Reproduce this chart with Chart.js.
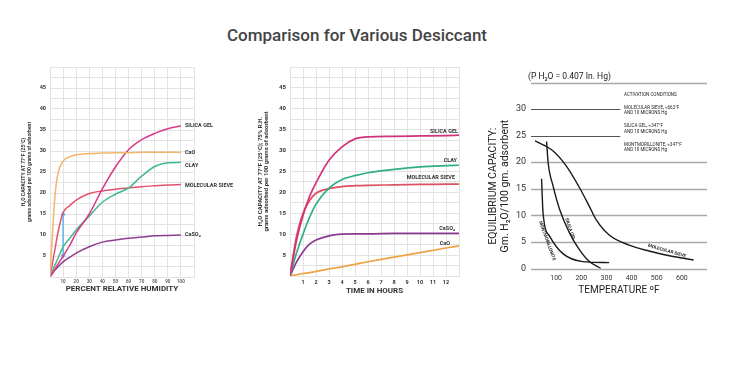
<!DOCTYPE html>
<html>
<head>
<meta charset="utf-8">
<script src="https://cdn.jsdelivr.net/npm/chart.js@4.4.0/dist/chart.umd.min.js"></script>
<style>
body { margin:0; background:#fff; width:744px; height:367px; position:relative; overflow:hidden; font-family: Roboto, sans-serif; }
#title { position:absolute; left:0; width:714px; top:25px; text-align:center; font-size:17px; font-weight:500; color:#444; }
canvas { position:absolute; }
</style>
</head>
<body>
<div id="title">Comparison for Various Desiccant</div>
<canvas id="humidity" width="250" height="260" style="left:0;top:50px"></canvas>
<canvas id="hours" width="240" height="260" style="left:250px;top:50px"></canvas>
<canvas id="temperature" width="260" height="260" style="left:484px;top:50px"></canvas>
<script>
Chart.defaults.font.family = 'Roboto, sans-serif';
Chart.defaults.color = '#333';

// chart 1 - capacity vs percent relative humidity
const rhLevels = [0, 2, 4, 6, 10, 15, 20, 30, 40, 50, 60, 70, 80, 90, 100];
const caoRh = [0, 11, 20, 24.5, 27.6, 28.6, 29.1, 29.4, 29.5, 29.6, 29.6, 29.7, 29.7, 29.7, 29.7];
const silicaGelRh = [0, 1, 2, 3, 5, 7.5, 10.5, 15, 21, 26.2, 30.3, 32.7, 34.2, 35.3, 36];
const clayRh = [0, 1.5, 3, 4.4, 7.2, 9.2, 11.2, 14.5, 17.8, 19.7, 21.2, 24, 26.3, 27.2, 27.3];
const molSieveRh = [0, 3.5, 7, 10.5, 15.3, 17, 18.3, 19.9, 20.5, 20.9, 21.2, 21.5, 21.7, 21.9, 22];
const caso4Rh = [0, 0.9, 1.7, 2.4, 3.6, 4.7, 5.7, 7.2, 8.3, 8.8, 9.2, 9.5, 9.8, 9.9, 10];
const arrowRh = [10, 10];
const arrowCap = [5, 15];

// chart 2 - capacity vs time at 75% R.H.
const hourLevels = [0, 0.5, 1, 1.5, 2, 3, 4, 5, 6, 8, 10, 12, 13];
const silicaGelHr = [0, 8.5, 14.5, 19, 22.3, 27.7, 30.9, 32.8, 33.3, 33.4, 33.5, 33.6, 33.7];
const clayHr = [0, 5.5, 10, 14, 17.2, 21, 23.1, 24, 24.7, 25.5, 26.1, 26.4, 26.5];
const molSieveHr = [0, 9.5, 15, 18, 19.8, 20.9, 21.4, 21.6, 21.7, 21.8, 21.9, 22, 22];
const caso4Hr = [0, 3.3, 5.8, 7.6, 8.6, 9.6, 10, 10.1, 10.1, 10.2, 10.2, 10.2, 10.2];
const caoHr = [0, 0.3, 0.6, 0.8, 1.1, 1.7, 2.2, 2.8, 3.4, 4.5, 5.6, 6.7, 7.2];

// chart 3 - equilibrium capacity vs temperature
const molSieveTemp = [16, 88, 140, 193, 232, 259, 311, 390, 469, 560, 647];
const molSieveCap = [24.0, 22.1, 19.3, 15.2, 11.7, 9.2, 6.3, 4.4, 3.3, 2.3, 1.6];
const silicaGelTemp = [62, 68, 88, 114, 154, 193, 232, 278];
const silicaGelCap = [23.9, 20, 15.5, 11.1, 6.6, 3.5, 1.3, 0];
const montTemp = [42, 48, 75, 127, 206, 311];
const montCap = [16.9, 10.4, 6.0, 2.8, 1.3, 1.1];
const gridCaps = [0, 5, 10, 15, 20, 25, 30, 35];
const shortGridCaps = [25, 30];
const activationHeader = 'ACTIVATION CONDITIONS';
const activationNotes = [
    ['MOLECULAR SIEVE, \u2248662\u00b0F', 'AND 10 MICRONS Hg'],
    ['SILICA GEL, \u2248347\u00b0F', 'AND 10 MICRONS Hg'],
    ['MONTMORILLONITE, \u2248347\u00b0F', 'AND 10 MICRONS Hg']
];

function points(xs, ys) {
    return xs.map((x, i) => ({x: x, y: ys[i]}));
}

// text labels next to the curve ends
const endLabels = {
    id: 'endLabels',
    afterDatasetsDraw(chart, args, opts) {
        const ctx = chart.ctx;
        ctx.save();
        ctx.font = opts.font;
        ctx.fillStyle = '#333';
        ctx.textBaseline = 'middle';
        opts.items.forEach(item => {
            const ds = chart.data.datasets[item.dataset];
            const last = ds.data[ds.data.length - 1];
            let x = item.align === 'right' ? chart.chartArea.right + item.dx : chart.scales.x.getPixelForValue(last.x) + item.dx;
            let y = chart.scales.y.getPixelForValue(last.y) + item.dy;
            ctx.textAlign = item.align || 'left';
            ctx.fillText(item.text, x, y);
        });
        ctx.restore();
    }
};

const gridColor = '#e3e3e3';

new Chart(document.getElementById('humidity'), {
    type: 'line',
    data: {
        datasets: [
            {label: 'CaO', data: points(rhLevels, caoRh), borderColor: '#f2b56d'},
            {label: 'SILICA GEL', data: points(rhLevels, silicaGelRh), borderColor: '#d8398a'},
            {label: 'CLAY', data: points(rhLevels, clayRh), borderColor: '#43b98f'},
            {label: 'MOLECULAR SIEVE', data: points(rhLevels, molSieveRh), borderColor: '#e2536b'},
            {label: 'CaSO4', data: points(rhLevels, caso4Rh), borderColor: '#8d3e91'},
            {
                label: 'difference', data: points(arrowRh, arrowCap), borderColor: '#5bb6e8', backgroundColor: '#5bb6e8',
                cubicInterpolationMode: 'default', tension: 0, pointStyle: 'triangle', pointRadius: 2.2,
                rotation: ctx => ctx.dataIndex === 0 ? 180 : 0
            }
        ]
    },
    options: {
        responsive: false,
        animation: false,
        layout: {padding: {top: 17, right: 56, left: 0, bottom: 0}},
        elements: {
            line: {borderWidth: 1.5, cubicInterpolationMode: 'monotone', fill: false},
            point: {radius: 0}
        },
        plugins: {
            legend: {display: false},
            tooltip: {enabled: false},
            endLabels: {
                font: 'bold 5.5px Roboto, sans-serif',
                items: [
                    {dataset: 1, text: 'SILICA GEL', dx: 4, dy: 0},
                    {dataset: 0, text: 'CaO', dx: 4, dy: 0},
                    {dataset: 2, text: 'CLAY', dx: 4, dy: 3},
                    {dataset: 3, text: 'MOLECULAR SIEVE', dx: 4, dy: 1},
                    {dataset: 4, text: 'CaSO\u2084', dx: 4, dy: 0}
                ]
            }
        },
        scales: {
            x: {
                type: 'linear', min: 0, max: 110,
                afterFit: s => { s.height = 33; },
                ticks: {stepSize: 10, autoSkip: false, maxRotation: 0, padding: 2, color: '#666',
                    font: {size: 4.5, weight: 'bold'},
                    callback: v => (v > 0 && v <= 100) ? v : ''},
                grid: {color: gridColor, drawTicks: false},
                border: {color: gridColor},
                title: {display: true, text: 'PERCENT RELATIVE HUMIDITY', color: '#333',
                    font: {size: 8, weight: 'bold'}, padding: {top: 0, bottom: 16}}
            },
            y: {
                min: 0, max: 50,
                afterFit: s => { s.width = 50; },
                ticks: {stepSize: 2.5, autoSkip: false, padding: 4, color: '#333',
                    font: {size: 5.5, weight: 'bold'},
                    callback: v => (v % 5 === 0 && v > 0 && v < 50) ? v : ''},
                grid: {color: gridColor, drawTicks: false},
                border: {color: gridColor},
                title: {display: true, text: ['H\u2082O CAPACITY AT 77\u00b0F (25\u00b0C)', 'grams adsorbed per 100 grams of adsorbent'],
                    color: '#333', font: {size: 5, weight: 'bold', lineHeight: 1.2}, padding: {top: 21, bottom: 0}}
            }
        }
    },
    plugins: [endLabels]
});

new Chart(document.getElementById('hours'), {
    type: 'line',
    data: {
        datasets: [
            {label: 'SILICA GEL', data: points(hourLevels, silicaGelHr), borderColor: '#d0337a'},
            {label: 'CLAY', data: points(hourLevels, clayHr), borderColor: '#2fae85'},
            {label: 'MOLECULAR SIEVE', data: points(hourLevels, molSieveHr), borderColor: '#dc5262'},
            {label: 'CaSO4', data: points(hourLevels, caso4Hr), borderColor: '#8b3a8f'},
            {label: 'CaO', data: points(hourLevels, caoHr), borderColor: '#eea445'}
        ]
    },
    options: {
        responsive: false,
        animation: false,
        layout: {padding: {top: 17, right: 31, left: 0, bottom: 0}},
        elements: {
            line: {borderWidth: 1.7, cubicInterpolationMode: 'monotone', fill: false},
            point: {radius: 0}
        },
        plugins: {
            legend: {display: false},
            tooltip: {enabled: false},
            endLabels: {
                font: 'bold 5.5px Roboto, sans-serif',
                items: [
                    {dataset: 0, text: 'SILICA GEL', dx: -1, dy: -4, align: 'right'},
                    {dataset: 1, text: 'CLAY', dx: -2, dy: -5, align: 'right'},
                    {dataset: 2, text: 'MOLECULAR SIEVE', dx: -4, dy: -6, align: 'right'},
                    {dataset: 3, text: 'CaSO\u2084', dx: -4, dy: -5, align: 'right'},
                    {dataset: 4, text: 'CaO', dx: -9, dy: -2, align: 'right'}
                ]
            }
        },
        scales: {
            x: {
                type: 'linear', min: 0, max: 13,
                afterFit: s => { s.height = 34; },
                ticks: {stepSize: 1, autoSkip: false, maxRotation: 0, padding: 3, color: '#333',
                    font: {size: 5.5, weight: 'bold'},
                    callback: v => (v >= 1 && v <= 12) ? v : ''},
                grid: {color: gridColor, drawTicks: false},
                border: {color: gridColor},
                title: {display: true, text: 'TIME IN HOURS', color: '#333',
                    font: {size: 8, weight: 'bold'}, padding: {top: 0, bottom: 14}}
            },
            y: {
                min: 0, max: 50,
                afterFit: s => { s.width = 40; },
                ticks: {stepSize: 2.5, autoSkip: false, padding: 4, color: '#333',
                    font: {size: 6, weight: 'bold'},
                    callback: v => (v % 5 === 0 && v > 0 && v < 50) ? v : ''},
                grid: {color: gridColor, drawTicks: false},
                border: {color: gridColor},
                title: {display: true, text: ['H\u2082O CAPACITY AT 77\u00b0F (25\u00b0C); 75% R.H.', 'grams adsorbed per 100 grams of adsorbent'],
                    color: '#333', font: {size: 6, weight: 'bold', lineHeight: 1}, padding: {top: 7, bottom: 0}}
            }
        }
    },
    plugins: [endLabels]
});

// gridlines, notes and curve labels for the temperature chart
const temperatureExtras = {
    id: 'temperatureExtras',
    beforeDatasetsDraw(chart) {
        const {ctx, chartArea, scales: {x, y}} = chart;
        ctx.save();
        gridCaps.forEach(c => {
            const py = Math.round(y.getPixelForValue(c)) + 0.5;
            const short = shortGridCaps.includes(c);
            ctx.strokeStyle = short ? '#555' : '#a8a8a8';
            ctx.lineWidth = short ? 1 : 1.5;
            ctx.beginPath();
            ctx.moveTo(chartArea.left, py);
            ctx.lineTo(short ? x.getPixelForValue(355) : chartArea.right, py);
            ctx.stroke();
        });
        ctx.restore();
    },
    afterDraw(chart) {
        const {ctx, chartArea, scales: {x, y}} = chart;
        ctx.save();
        ctx.fillStyle = '#222';
        ctx.textBaseline = 'middle';

        ctx.font = '8.5px Roboto, sans-serif';
        ctx.fillText('(P H\u2082O = 0.407 In. Hg)', chartArea.left - 3, chartArea.top - 6);

        ctx.font = '4.5px Roboto, sans-serif';
        const noteX = x.getPixelForValue(370);
        let noteY = chartArea.top + 12;
        ctx.fillText(activationHeader, noteX, noteY);
        activationNotes.forEach((lines, g) => {
            lines.forEach((line, i) => {
                ctx.fillText(line, noteX, noteY + 13 + g * 18.5 + i * 5.5);
            });
        });

        // axis title drawn by hand so it sits lower like the original
        ctx.font = '10.5px Roboto, sans-serif';
        ctx.textAlign = 'center';
        ctx.translate(9, y.getPixelForValue(15.5));
        ctx.rotate(-Math.PI / 2);
        ctx.fillText('EQUILIBRIUM CAPACITY:', 0, 0);
        ctx.fillText('Gm. H\u2082O/100 gm. adsorbent', 0, 12);
        ctx.restore();

        const curveLabels = [
            {text: 'MOLECULAR SIEVE', t: 541, c: 3.3, angle: 16},
            {text: 'SILICA GEL', t: 155, c: 7.4, angle: 72},
            {text: 'MONTMORILLONITE', t: 64, c: 5.2, angle: 70}
        ];
        ctx.save();
        ctx.fillStyle = '#222';
        ctx.font = 'bold 4.5px Roboto, sans-serif';
        ctx.textAlign = 'center';
        ctx.textBaseline = 'middle';
        curveLabels.forEach(l => {
            ctx.save();
            ctx.translate(x.getPixelForValue(l.t), y.getPixelForValue(l.c));
            ctx.rotate(l.angle * Math.PI / 180);
            ctx.fillText(l.text, 0, 0);
            ctx.restore();
        });
        ctx.restore();
    }
};

new Chart(document.getElementById('temperature'), {
    type: 'line',
    data: {
        datasets: [
            {label: 'MOLECULAR SIEVE', data: points(molSieveTemp, molSieveCap)},
            {label: 'SILICA GEL', data: points(silicaGelTemp, silicaGelCap)},
            {label: 'MONTMORILLONITE', data: points(montTemp, montCap)}
        ]
    },
    options: {
        responsive: false,
        animation: false,
        layout: {padding: {top: 32.5, right: 37, left: 0, bottom: 0}},
        elements: {
            line: {borderWidth: 1.4, borderColor: '#1a1a1a', cubicInterpolationMode: 'monotone', fill: false},
            point: {radius: 0}
        },
        plugins: {legend: {display: false}, tooltip: {enabled: false}},
        scales: {
            x: {
                type: 'linear', min: 0, max: 700,
                afterFit: s => { s.height = 41.5; },
                ticks: {stepSize: 100, autoSkip: false, maxRotation: 0, padding: 6, color: '#333',
                    font: {size: 7},
                    callback: v => (v > 0 && v < 700) ? v : ''},
                grid: {display: false, drawTicks: false},
                border: {display: false},
                title: {display: true, text: 'TEMPERATURE \u00baF', color: '#222',
                    font: {size: 10}, padding: {top: 0, bottom: 14}}
            },
            y: {
                min: 0, max: 35,
                afterFit: s => { s.width = 47; },
                ticks: {stepSize: 5, autoSkip: false, padding: 5, color: '#333',
                    font: {size: 9},
                    callback: v => v <= 30 ? v : ''},
                grid: {display: false, drawTicks: false},
                border: {display: false}
            }
        }
    },
    plugins: [temperatureExtras]
});
</script>
</body>
</html>
